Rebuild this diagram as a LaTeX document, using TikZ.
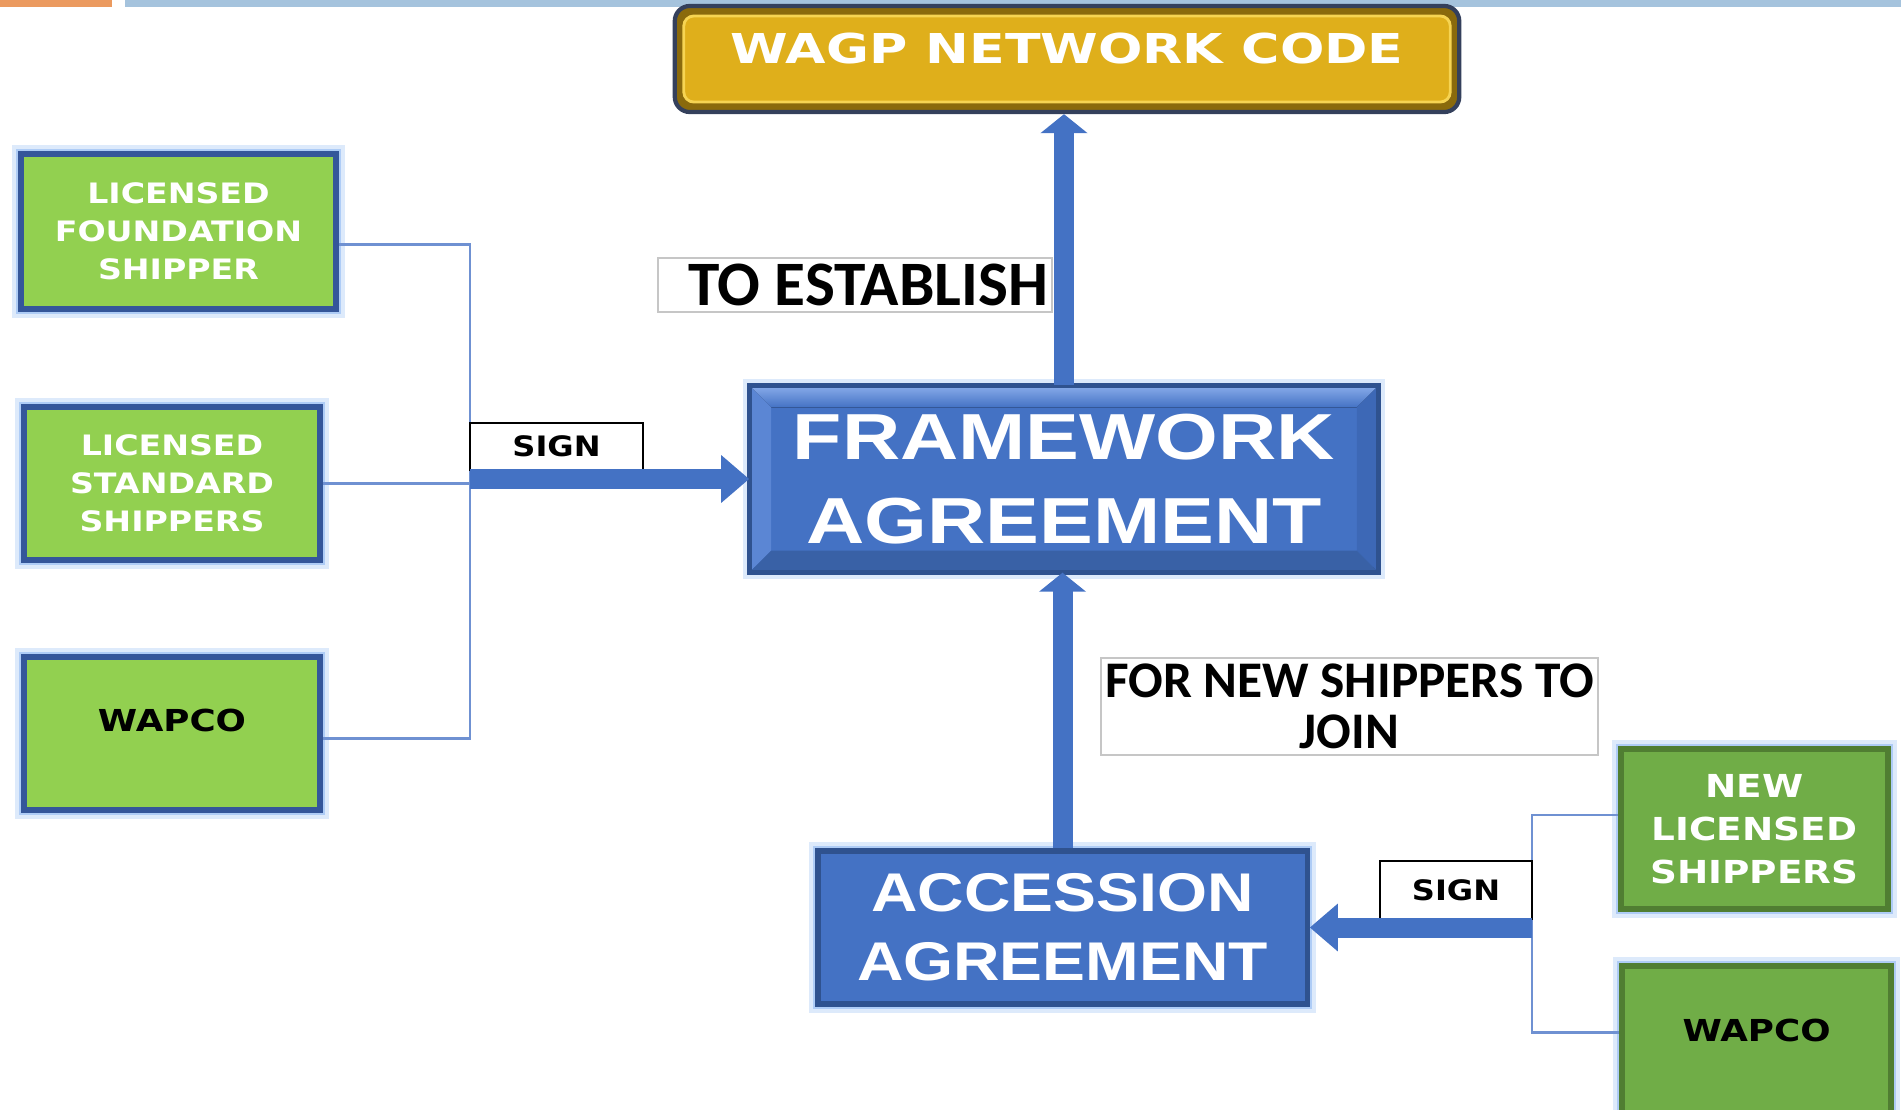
\documentclass[tikz,border=0pt]{standalone}
\usepackage{graphicx}
\usepackage{fontspec}
\setmainfont{Liberation Sans}
\newfontfamily\heavyfont{DejaVu Sans}
\newfontfamily\calfont{Carlito}
\usetikzlibrary{%
  arrows.meta,%
  calc,%
  positioning%
}
\newcommand\wider[2][1.18]{\scalebox{#1}[1]{#2}}
\definecolor{barorange}{HTML}{EB9A5F}
\definecolor{barblue}{HTML}{A5C3DD}
\definecolor{glowblue}{HTML}{8FB8F2}
\definecolor{codegold}{HTML}{DFAF1B}
\definecolor{codedark}{HTML}{8A6A0C}
\definecolor{codelight}{HTML}{F6D452}
\definecolor{codeedge}{HTML}{34405C}
\definecolor{accblue}{HTML}{4472C4}
\definecolor{accedge}{HTML}{2F528F}
\definecolor{bevellight}{HTML}{8AADEB}
\definecolor{bevelside}{HTML}{5B86D4}
\definecolor{beveldark}{HTML}{3D68B6}
\definecolor{bevelbottom}{HTML}{3961A6}
\definecolor{shipgreen}{HTML}{92D050}
\definecolor{shipedge}{HTML}{34569A}
\definecolor{newgreen}{HTML}{70AD47}
\definecolor{newedge}{HTML}{507E32}
\definecolor{linkblue}{HTML}{6F91D2}
\definecolor{noteline}{HTML}{C6C6C6}
\tikzset{>=latex,
  glow/.style={preaction={draw=glowblue,line width=1.8mm,opacity=.3},
    preaction={draw=glowblue,line width=0.9mm,opacity=.6}},
  codebox/.style={draw=codeedge, line width=1.2pt, fill=codedark,
    rounded corners=0.15cm, text=white, inner sep=0pt,
    path picture={
      \fill[codegold, rounded corners=0.1cm]
        ($(path picture bounding box.north west)+(9,10)$) rectangle
        ($(path picture bounding box.south east)+(-9,-10)$);
      \draw[codelight, line width=0.8pt, rounded corners=0.1cm]
        ($(path picture bounding box.north west)+(9,10)$) rectangle
        ($(path picture bounding box.south east)+(-9,-10)$);},
    text height=3.0mm, text depth=2.2mm,
    font=\heavyfont\bfseries\fontsize{11.7}{14}\selectfont},
  accord/.style={glow, draw=accedge, line width=1.5pt, fill=accblue,
    text=white, align=center, inner sep=0pt},
  shipper/.style={glow, draw=shipedge, line width=1.5pt, fill=shipgreen,
    text=white, align=center, inner sep=0pt,
    font=\heavyfont\bfseries\fontsize{8}{10.8}\selectfont},
  newshipper/.style={shipper, draw=newedge, fill=newgreen,
    font=\heavyfont\bfseries\fontsize{9}{12.2}\selectfont},
  owner/.style={text=black, text height=2.2mm, text depth=2.6mm,
    font=\heavyfont\bfseries\fontsize{8.6}{10}\selectfont},
  signbox/.style={draw=black, line width=0.6pt, fill=white, inner sep=0pt,
    font=\heavyfont\bfseries\fontsize{8}{9}\selectfont},
  note/.style={draw=noteline, line width=0.5pt, fill=white, align=center,
    inner sep=0pt},
  flow/.style={draw=accblue, line width=2mm,
    -{Triangle[length=#1,width=4.6mm]}},
  flow/.default=2.8mm,
  link/.style={draw=linkblue, line width=0.7pt}}

\begin{document}
\begin{tikzpicture}[x=0.01cm,y=-0.01cm]
  \useasboundingbox (0,0) rectangle (1901,1109);
  \fill[barorange] (0,0) rectangle (112,7);
  \fill[barblue] (125,0) rectangle (1901,7);

  % agreements
  \node[codebox, minimum width=7.84cm, minimum height=1.06cm] (wagp) at (1067,59) {\wider[1.27]{WAGP NETWORK CODE}};

  \node[accord, minimum width=6.24cm, minimum height=1.82cm,
    font=\bfseries\fontsize{18.5}{24}\selectfont] (fw) at (1064,479) {\wider[1.24]{FRAMEWORK}\\\wider[1.24]{AGREEMENT}};
  \fill[top color=bevellight, bottom color=accblue] (fw.north west) -- (fw.north east)
    -- ($(fw.north east)+(-22,22)$) -- ($(fw.north west)+(22,22)$) -- cycle;
  \fill[bevelside] (fw.north west) -- (fw.south west)
    -- ($(fw.south west)+(22,-22)$) -- ($(fw.north west)+(22,22)$) -- cycle;
  \fill[beveldark] (fw.north east) -- (fw.south east)
    -- ($(fw.south east)+(-22,-22)$) -- ($(fw.north east)+(-22,22)$) -- cycle;
  \fill[bevelbottom] (fw.south west) -- (fw.south east)
    -- ($(fw.south east)+(-22,-22)$) -- ($(fw.south west)+(22,-22)$) -- cycle;
  \draw[accedge, line width=1.5pt] (fw.north west) rectangle (fw.south east);

  \node[accord, minimum width=4.89cm, minimum height=1.53cm,
    font=\bfseries\fontsize{15.5}{19.6}\selectfont] (acc) at (1062.5,927.5) {\wider{ACCESSION}\\\wider{AGREEMENT}};

  % shippers
  \node[shipper, minimum width=3.15cm, minimum height=1.55cm] (lfs) at (178.5,231.5) {\wider{LICENSED}\\\wider{FOUNDATION}\\\wider{SHIPPER}};
  \node[shipper, minimum width=2.96cm, minimum height=1.53cm] (lss) at (172,483.5) {\wider{LICENSED}\\\wider{STANDARD}\\\wider{SHIPPERS}};
  \node[shipper, owner, minimum width=2.96cm, minimum height=1.53cm] (wapl) at (172,733.5) {\wider{WAPCO}};
  \node[newshipper, minimum width=2.67cm, minimum height=1.60cm] (nls) at (1754.5,829) {\wider{NEW}\\\wider{LICENSED}\\\wider{SHIPPERS}};
  \node[newshipper, owner, minimum width=2.69cm, minimum height=1.55cm] (wapr) at (1756.5,1043.5) {\wider{WAPCO}};

  % connectors
  \coordinate (lbus) at (470,480);
  \coordinate (rbus) at (1532,930);
  \draw[link] ($(lfs.east)+(0,13)$) -- ($(lfs.east -| lbus)+(0,13)$) -- ($(wapl.east -| lbus)+(0,5)$) -- ($(wapl.east)+(0,5)$);
  \draw[link] (lss.east) -- (lss.east -| lbus);
  \draw[link] ($(nls.west)+(0,-14)$) -- ($(nls.west -| rbus)+(0,-14)$) -- ($(wapr.west -| rbus)+(0,-11)$) -- ($(wapr.west)+(0,-11)$);

  \node[signbox, minimum width=1.73cm, minimum height=0.47cm] (sl) at (556.5,446.5) {\wider[1.14]{SIGN}};
  \node[signbox, minimum width=1.52cm, minimum height=0.58cm] (sr) at (1456,890) {\wider[1.14]{SIGN}};
  \node[note, minimum width=3.94cm, minimum height=0.54cm, text width=3.86cm, align=flush right,
    font=\calfont\bfseries\fontsize{18}{18}\selectfont] (est) at (855,285) {TO ESTABLISH};
  \node[note, minimum width=4.97cm, minimum height=0.97cm,
    font=\calfont\bfseries\fontsize{14.6}{14.5}\selectfont] (join) at (1349.5,706.5) {FOR NEW SHIPPERS TO\\JOIN};

  \draw[flow] (lbus |- fw.west) -- (fw.west);
  \draw[flow] (rbus |- acc.east) -- (acc.east);
  \draw[flow=1.9mm] (fw.north) -- (fw.north |- wagp.south);
  \draw[flow=1.9mm] (acc.north) -- (acc.north |- fw.south);
\end{tikzpicture}
\end{document}
